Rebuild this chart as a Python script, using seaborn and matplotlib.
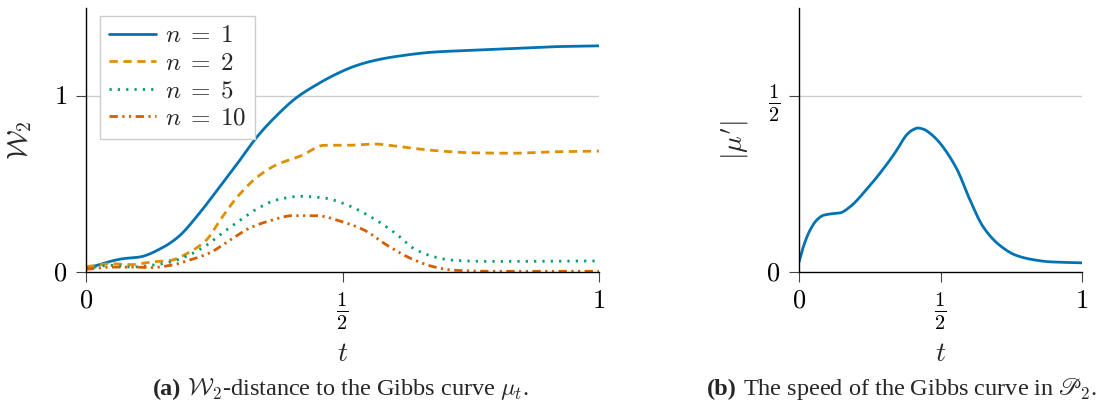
import numpy as np
import pandas as pd
import matplotlib
matplotlib.use("Agg")
import matplotlib.pyplot as plt
import seaborn as sns

# ---- data ----
t_n1 = [0.0, 0.073, 0.104, 0.15, 0.18, 0.22, 0.257, 0.296, 0.334, 0.372, 0.41, 0.45, 0.488, 0.526, 0.564, 0.603, 0.68, 0.757, 0.833, 0.91, 1.0]
w_n1 = [0.02, 0.076, 0.085, 0.14, 0.2, 0.33, 0.47, 0.62, 0.77, 0.89, 0.99, 1.065, 1.125, 1.172, 1.203, 1.224, 1.25, 1.26, 1.27, 1.28, 1.285]

t_n2 = [0.0, 0.05, 0.088, 0.127, 0.165, 0.2, 0.234, 0.265, 0.296, 0.334, 0.372, 0.419, 0.465, 0.51, 0.564, 0.603, 0.68, 0.757, 0.833, 0.91, 1.0]
w_n2 = [0.03, 0.047, 0.042, 0.057, 0.066, 0.11, 0.18, 0.31, 0.43, 0.54, 0.61, 0.66, 0.72, 0.72, 0.727, 0.715, 0.69, 0.677, 0.675, 0.683, 0.687]

t_n5 = [0.0, 0.05, 0.088, 0.127, 0.165, 0.2, 0.234, 0.265, 0.296, 0.334, 0.372, 0.419, 0.465, 0.51, 0.557, 0.603, 0.641, 0.68, 0.718, 0.795, 1.0]
w_n5 = [0.02, 0.038, 0.028, 0.038, 0.057, 0.095, 0.15, 0.22, 0.285, 0.36, 0.41, 0.43, 0.42, 0.38, 0.31, 0.22, 0.13, 0.085, 0.066, 0.06, 0.063]

t_n10 = [0.0, 0.05, 0.088, 0.127, 0.165, 0.2, 0.242, 0.28, 0.319, 0.357, 0.403, 0.45, 0.495, 0.541, 0.588, 0.634, 0.68, 0.718, 0.795, 1.0]
w_n10 = [0.015, 0.028, 0.028, 0.025, 0.038, 0.066, 0.11, 0.18, 0.25, 0.29, 0.32, 0.32, 0.29, 0.24, 0.15, 0.076, 0.028, 0.01, 0.004, 0.004]

t_speed = [0.0, 0.015, 0.039, 0.062, 0.086, 0.121, 0.145, 0.18, 0.239, 0.298, 0.35, 0.367, 0.382, 0.40, 0.4205, 0.442, 0.463, 0.485, 0.509, 0.558, 0.604, 0.651, 0.709, 0.768, 0.827, 0.886, 1.0]
speed = [0.028, 0.071, 0.119, 0.147, 0.161, 0.166, 0.168, 0.185, 0.235, 0.293, 0.352, 0.375, 0.391, 0.403, 0.409, 0.405, 0.394, 0.378, 0.355, 0.292, 0.205, 0.128, 0.076, 0.047, 0.035, 0.029, 0.026]

series_labels = [r"$n\;=\;1$", r"$n\;=\;2$", r"$n\;=\;5$", r"$n\;=\;10$"]

# ---- style ----
sns.set_theme(style="ticks")
plt.rcParams["font.family"] = ["Liberation Serif", "DejaVu Serif"]
plt.rcParams["mathtext.fontset"] = "cm"
pal = sns.color_palette("colorblind")
colors = [pal[0], pal[1], pal[2], pal[3]]
styles = ["-", (0, (3, 2)), (0, (0.8, 2.2)), (0, (3, 1.6, 0.8, 1.6, 0.8, 1.6))]

fig = plt.figure(figsize=(11.05, 4.12), dpi=100)
axL = fig.add_axes([86 / 1105, 1 - 272 / 412, (599 - 86) / 1105, (272 - 8) / 412])
axR = fig.add_axes([799 / 1105, 1 - 272 / 412, (1082 - 799) / 1105, (272 - 8) / 412])


def smooth(tx, ty, n=600):
    # monotone cubic (PCHIP-like) interpolation for a smooth drawn curve
    x = np.asarray(tx, float)
    y = np.asarray(ty, float)
    h = np.diff(x)
    d = np.diff(y) / h
    m = np.zeros_like(y)
    for i in range(1, len(x) - 1):
        if d[i - 1] * d[i] > 0:
            w1 = 2 * h[i] + h[i - 1]
            w2 = h[i] + 2 * h[i - 1]
            m[i] = (w1 + w2) / (w1 / d[i - 1] + w2 / d[i])
    m[0] = d[0]
    m[-1] = d[-1]
    xs = np.linspace(x[0], x[-1], n)
    idx = np.clip(np.searchsorted(x, xs) - 1, 0, len(x) - 2)
    hh = h[idx]
    s = (xs - x[idx]) / hh
    h00 = 2 * s**3 - 3 * s**2 + 1
    h10 = s**3 - 2 * s**2 + s
    h01 = -2 * s**3 + 3 * s**2
    h11 = s**3 - s**2
    ys = h00 * y[idx] + h10 * hh * m[idx] + h01 * y[idx + 1] + h11 * hh * m[idx + 1]
    return xs, ys


left_sets = [(t_n1, w_n1), (t_n2, w_n2), (t_n5, w_n5), (t_n10, w_n10)]
for (tx, ty), lab, c, ls in zip(left_sets, series_labels, colors, styles):
    xs, ys = smooth(tx, ty)
    df = pd.DataFrame({"t": xs, "w": ys})
    sns.lineplot(data=df, x="t", y="w", ax=axL, color=c, linestyle=ls,
                 linewidth=2.0, label=lab, sort=False)

xs, ys = smooth(t_speed, speed)
sns.lineplot(data=pd.DataFrame({"t": xs, "v": ys}), x="t", y="v", ax=axR,
             color=colors[0], linewidth=2.0, sort=False)

tick_fs = 19
frac_fs = 21
for ax, ymax, yt, ytl, ylab, lpad in [
    (axL, 1.5, [0, 1], [r"$0$", r"$1$"], r"$\mathcal{W}_2$", 14),
    (axR, 0.75, [0, 0.5], [r"$0$", r"$\frac{1}{2}$"], r"$|\mu'|$", 10),
]:
    ax.set_xlim(0, 1)
    ax.set_ylim(0, ymax)
    ax.set_xticks([0, 0.5, 1])
    ax.set_xticklabels([r"$0$", r"$\frac{1}{2}$", r"$1$"], fontsize=tick_fs)
    ax.set_yticks(yt)
    ax.set_yticklabels(ytl, fontsize=tick_fs)
    for lbl in list(ax.get_xticklabels()) + list(ax.get_yticklabels()):
        if "frac" in lbl.get_text():
            lbl.set_fontsize(frac_fs)
    for yv in yt[1:]:
        ax.axhline(yv, color="#cccccc", linewidth=1.0, zorder=0)
    ax.set_xlabel(r"$t$", fontsize=20, labelpad=7)
    ax.set_ylabel(ylab, fontsize=20, labelpad=lpad)
    sns.despine(ax=ax)
    for sp in ["left", "bottom"]:
        ax.spines[sp].set_color("black")
        ax.spines[sp].set_linewidth(1.0)
    ax.tick_params(axis="both", direction="out", length=7.5, width=0.8,
                   color="#444444", labelcolor="black", pad=6)

leg = axL.legend(loc="upper left", bbox_to_anchor=(14 / 513, 1 - 8 / 264),
                 borderaxespad=0, fontsize=18, frameon=True, fancybox=False,
                 handlelength=1.9, borderpad=0.35, labelspacing=0.2,
                 handletextpad=0.35)
leg.get_frame().set_edgecolor("#cccccc")
leg.get_frame().set_linewidth(1.0)
leg.get_frame().set_alpha(1.0)

# ---- captions: bold tag + regular text, centred as a whole ----
cap_fs = 17.5
cap_y = 1 - 395 / 412
captions = [
    (341, "(a)", r"$\mathcal{W}_2$-distance to the Gibbs curve $\mu_t$."),
    (902, "(b)", r"The speed of the Gibbs curve in $\mathscr{P}_2$."),
]
fig.canvas.draw()
renderer = fig.canvas.get_renderer()
gap = 6
for cx, tag, body in captions:
    t1 = fig.text(0, cap_y, tag, fontsize=cap_fs, fontweight="bold",
                  family="Liberation Serif", ha="left", va="baseline")
    t2 = fig.text(0, cap_y, body, fontsize=cap_fs, family="Liberation Serif",
                  ha="left", va="baseline")
    w1 = t1.get_window_extent(renderer).width
    w2 = t2.get_window_extent(renderer).width
    start = cx - (w1 + gap + w2) / 2
    t1.set_x(start / 1105)
    t2.set_x((start + w1 + gap) / 1105)

fig.savefig("out.png", dpi=100)
